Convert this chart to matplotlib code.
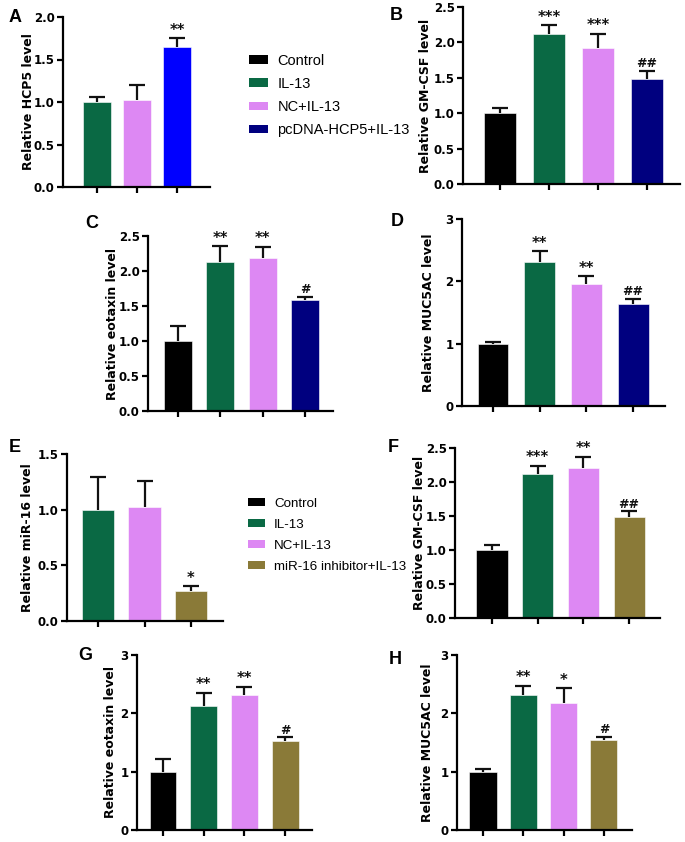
import numpy as np
import matplotlib
matplotlib.use("Agg")
import matplotlib.pyplot as plt
from matplotlib.patches import Patch

# groupes et couleurs
grp_top = ["Control", "IL-13", "NC+IL-13", "pcDNA-HCP5+IL-13"]
grp_bot = ["Control", "IL-13", "NC+IL-13", "miR-16 inhibitor+IL-13"]
col_top = ["#000000", "#0a6944", "#dd88f3", "#00007f"]
col_bot = ["#000000", "#0a6944", "#dd88f3", "#8a7a38"]
col_A = ["#0a6944", "#dd88f3", "#0000ff"]
col_E = ["#0a6944", "#dd88f3", "#8a7a38"]

# valeurs (moyenne, haut de la barre d'erreur, signif.)
hcp5_mean = [1.00, 1.02, 1.65]
hcp5_err = [1.06, 1.20, 1.75]
hcp5_sig = ["", "", "**"]

gmcsf1_mean = [1.00, 2.12, 1.92, 1.49]
gmcsf1_err = [1.08, 2.24, 2.12, 1.60]
gmcsf1_sig = ["", "***", "***", "##"]

eotax1_mean = [1.00, 2.13, 2.19, 1.58]
eotax1_err = [1.22, 2.35, 2.34, 1.63]
eotax1_sig = ["", "**", "**", "#"]

muc1_mean = [1.00, 2.31, 1.95, 1.64]
muc1_err = [1.03, 2.48, 2.08, 1.72]
muc1_sig = ["", "**", "**", "##"]

mir16_mean = [1.00, 1.02, 0.27]
mir16_err = [1.29, 1.26, 0.31]
mir16_sig = ["", "", "*"]

gmcsf2_mean = [1.00, 2.12, 2.21, 1.48]
gmcsf2_err = [1.08, 2.24, 2.37, 1.57]
gmcsf2_sig = ["", "***", "**", "##"]

eotax2_mean = [1.00, 2.13, 2.32, 1.53]
eotax2_err = [1.22, 2.35, 2.45, 1.59]
eotax2_sig = ["", "**", "**", "#"]

muc2_mean = [1.00, 2.31, 2.17, 1.55]
muc2_err = [1.04, 2.47, 2.43, 1.60]
muc2_sig = ["", "**", "*", "#"]

W, H = 685, 842
fig = plt.figure(figsize=(W / 100, H / 100), dpi=100)

def panel(box, lab, ylab_x, lettre, lettre_xy, moy, err, sig, cols, ylim, yticks, ylabel, bw=0.67):
    # box : gauche, droite, haut, bas en pixels ; lab : (x premiere barre, pas)
    l, r, t, b = box
    ax = fig.add_axes([l / W, (H - b) / H, (r - l) / W, (b - t) / H])
    x = np.arange(len(moy))
    x0, pas = lab
    ax.bar(x, moy, width=bw, color=cols, edgecolor="white", linewidth=0.4, zorder=2)
    eb = ax.errorbar(x, moy, yerr=[np.zeros(len(moy)), np.array(err) - np.array(moy)],
                     fmt="none", ecolor="#111111", elinewidth=1.6, capsize=6, capthick=1.6, zorder=1)
    eb[1][0].set_visible(False)  # pas de cap en bas
    for xi, e, s in zip(x, err, sig):
        if s:
            ax.text(xi, e + (ylim[1] * 0.004), s, ha="center", va="bottom",
                    fontsize=10.5 if "*" in s else 9, fontweight="bold", color="#111111")
    ax.set_xlim((l - x0) / pas, (r - x0) / pas)
    ax.set_ylim(*ylim)
    ax.set_yticks(yticks)
    ax.set_yticklabels([("%g" % v if isinstance(v, int) else "%.1f" % v) for v in yticks])
    ax.set_xticks(x)
    ax.set_xticklabels([])
    for s in ["top", "right"]:
        ax.spines[s].set_visible(False)
    for s in ["left", "bottom"]:
        ax.spines[s].set_linewidth(1.6)
    ax.tick_params(width=1.6, length=4, labelsize=8.5, pad=2)
    for tl in ax.get_yticklabels():
        tl.set_fontweight("bold")
    ax.set_ylabel(ylabel, fontsize=9, fontweight="bold")
    ax.yaxis.set_label_coords((ylab_x + 7 - l) / (r - l), 0.5)
    fig.text(lettre_xy[0] / W, 1 - lettre_xy[1] / H, lettre, fontsize=13, fontweight="bold",
             family="Liberation Sans", ha="center", va="center")
    return ax

panel((63, 210, 17, 187), (97, 40), 28, "A", (15, 18), hcp5_mean, hcp5_err, hcp5_sig, col_A,
      (0, 2.0), [0.0, 0.5, 1.0, 1.5, 2.0], "Relative HCP5 level", bw=0.68)
panel((463, 680, 7, 184), (500, 49), 425, "B", (396, 16), gmcsf1_mean, gmcsf1_err, gmcsf1_sig, col_top,
      (0, 2.5), [0.0, 0.5, 1.0, 1.5, 2.0, 2.5], "Relative GM-CSF level", bw=0.65)
panel((148, 333, 236, 411), (178, 42.3), 112, "C", (92, 223), eotax1_mean, eotax1_err, eotax1_sig, col_top,
      (0, 2.5), [0.0, 0.5, 1.0, 1.5, 2.0, 2.5], "Relative eotaxin level", bw=0.66)
panel((462, 665, 219, 406), (493, 46.7), 428, "D", (397, 222), muc1_mean, muc1_err, muc1_sig, col_top,
      (0, 3), [0, 1, 2, 3], "Relative MUC5AC level", bw=0.66)
panel((67, 223, 454, 621), (98, 46.5), 27, "E", (15, 447), mir16_mean, mir16_err, mir16_sig, col_E,
      (0, 1.5), [0.0, 0.5, 1.0, 1.5], "Relative miR-16 level", bw=0.69)
panel((455, 660, 448, 618), (492, 45.7), 419, "F", (393, 447), gmcsf2_mean, gmcsf2_err, gmcsf2_sig, col_bot,
      (0, 2.5), [0.0, 0.5, 1.0, 1.5, 2.0, 2.5], "Relative GM-CSF level", bw=0.68)
panel((137, 312, 655, 830), (163, 40.7), 110, "G", (85, 655), eotax2_mean, eotax2_err, eotax2_sig, col_bot,
      (0, 3), [0, 1, 2, 3], "Relative eotaxin level", bw=0.66)
panel((457, 632, 655, 830), (483, 40.3), 427, "H", (395, 659), muc2_mean, muc2_err, muc2_sig, col_bot,
      (0, 3), [0, 1, 2, 3], "Relative MUC5AC level", bw=0.67)

# legendes
def legende(noms, cols, x, y, taille):
    h = [Patch(facecolor=c, edgecolor="none") for c in cols]
    fig.legend(h, noms, loc="upper left", bbox_to_anchor=(x / W, 1 - y / H), frameon=False,
               prop={"family": "Liberation Sans", "size": taille}, handlelength=1.3, handleheight=0.55,
               handletextpad=0.65, labelspacing=0.62 * 10.5 / taille, borderpad=0, borderaxespad=0)

legende(grp_top, col_top, 249, 54, 10.5)
legende(grp_bot, col_bot, 248, 498, 9.6)

fig.savefig("out.png", dpi=100)
